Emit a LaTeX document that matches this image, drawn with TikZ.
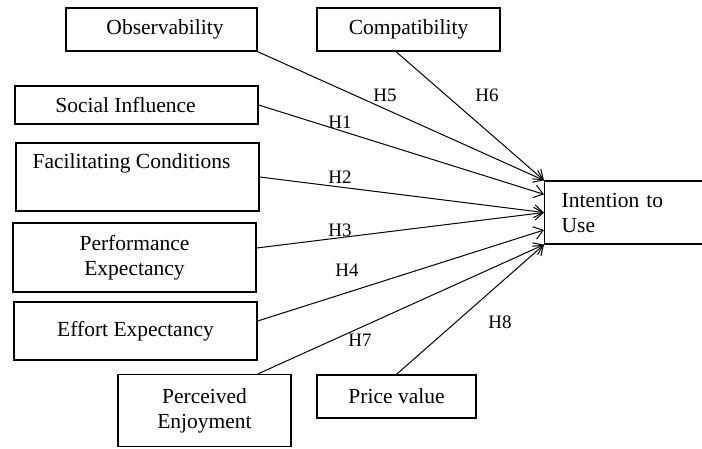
\documentclass[tikz,border=0pt]{standalone}
\usepackage{fontspec}
\setmainfont{Liberation Serif}
\usetikzlibrary{arrows.meta}
\tikzset{
  factor/.style = {
    draw, line width=1.3pt, inner sep=0pt, align=center,
    font=\fontsize{21.5}{25}\selectfont
  },
  hyp/.style  = {inner sep=0pt, font=\fontsize{19}{22}\selectfont},
  link/.style = {->, line width=1pt}
}
\tikzset{>={Straight Barb[length=9pt,width=13pt]}}

\begin{document}
\begin{tikzpicture}[x=1pt,y=-1pt]
  \useasboundingbox (0,0) rectangle (702,448);
  % factors
  \node[factor,minimum width=191pt,minimum height=43pt] (obs)   at (161.5,29.5)  {\hspace*{7pt}Observability};
  \node[factor,minimum width=183pt,minimum height=43pt] (comp)  at (408.5,29.5)  {Compatibility};
  \node[factor,minimum width=243pt,minimum height=38pt] (soc)   at (136.5,105)   {Social Influence\hspace*{22pt}};
  \node[factor,minimum width=243pt,minimum height=68pt] (fac)   at (137.5,177)   {Facilitating Conditions\hspace*{12pt}\\ \strut};
  \node[factor,minimum width=243pt,minimum height=69pt] (perf)  at (134.5,257.5) {Performance\\Expectancy};
  \node[factor,minimum width=243pt,minimum height=58pt] (eff)   at (135.5,331)   {Effort Expectancy};
  \node[factor,minimum width=173pt,minimum height=72pt] (enj)   at (204.5,410.5) {Perceived\\Enjoyment};
  \node[factor,minimum width=159pt,minimum height=43pt] (price) at (396.5,396.5) {Price value};
  % outcome
  \node[factor,anchor=west,align=left,inner xsep=17pt,text width=150pt,minimum height=63pt]
       (int) at (544,212.5) {Intention to\\Use};
  % hypotheses
  \draw[link] (obs.south east)          -- (int.north west);
  \draw[link] ([xshift=-12.5pt]comp.south) -- (int.north west);
  \draw[link] (soc.east)                -- ([yshift=-14pt]int.north west);
  \draw[link] (fac.east)                -- (int.west);
  \draw[link] ([yshift=9.5pt]perf.east) -- (int.west);
  \draw[link] ([yshift=10pt]eff.east)   -- ([yshift=-17.5pt]int.west);
  \draw[link] ([xshift=53.5pt]enj.north) -- (int.south west);
  \draw[link] (price.north)             -- (int.south west);
  % labels
  \node[hyp] (h5) at (385,95)  {H5};
  \node[hyp] (h6) at (487,95)  {H6};
  \node[hyp] (h1) at (340,122) {H1};
  \node[hyp] (h2) at (340,177) {H2};
  \node[hyp] (h3) at (340,230) {H3};
  \node[hyp] (h4) at (347,270) {H4};
  \node[hyp] (h7) at (360,340) {H7};
  \node[hyp] (h8) at (500,322) {H8};
\end{tikzpicture}
\end{document}
